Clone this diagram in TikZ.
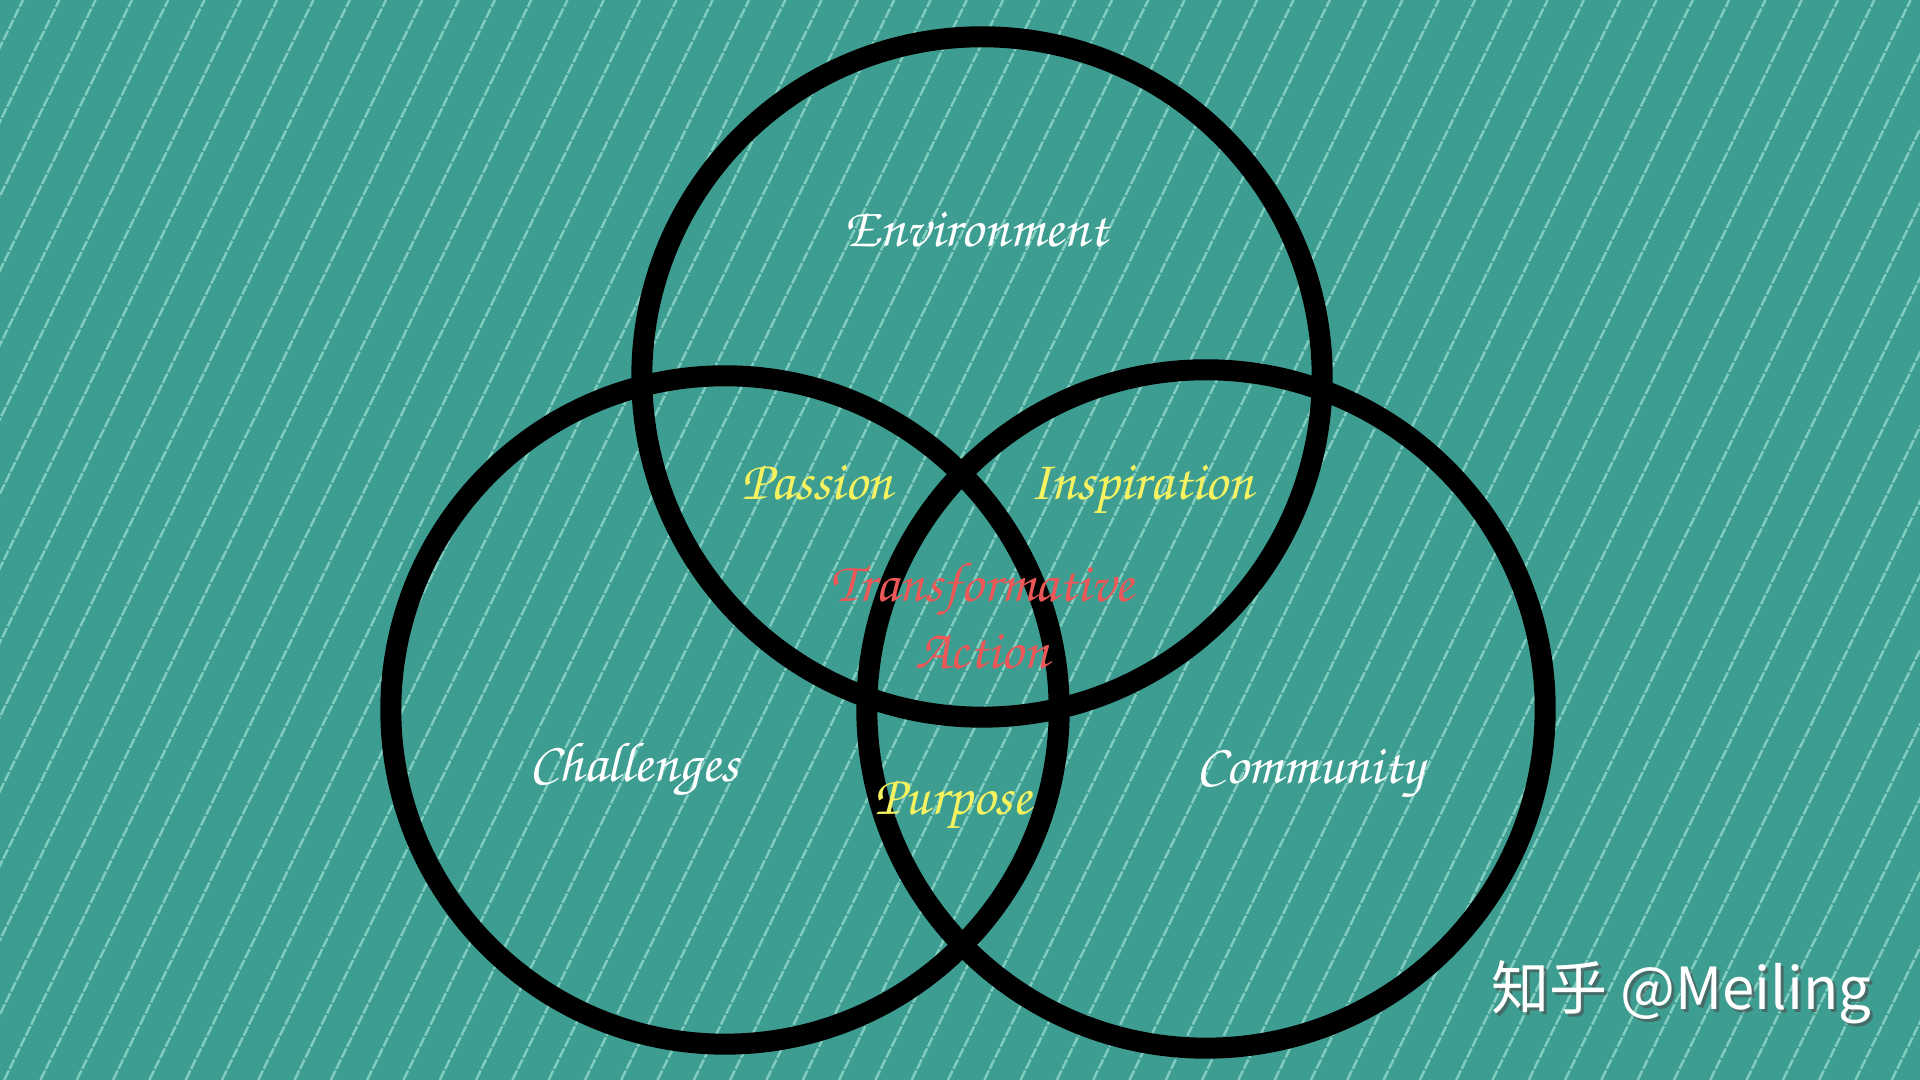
\documentclass[tikz,border=0pt]{standalone}
\usepackage[T1,TU]{fontenc}
\usepackage{fontspec}
\usepackage{tikz}
\usetikzlibrary{positioning}
\newfontfamily\cjk{Noto Sans CJK SC}
\newcommand{\vennscript}{\fontencoding{T1}\fontfamily{pzc}\fontseries{mb}\fontshape{it}\selectfont}
\definecolor{teal bg}{RGB}{61,157,145}
\definecolor{stripe}{RGB}{128,204,190}
\definecolor{hint yellow}{RGB}{246,242,96}
\definecolor{hint red}{RGB}{236,88,88}
\tikzset{
x=0.01cm, y=0.01cm, % one unit is one pixel of the picture
ring/.style={circle, draw=black, line width=21*0.2845pt, inner sep=0pt}, % the three big rings
word/.style={font=\vennscript\fontsize{16pt}{19pt}\selectfont, inner sep=0pt, anchor=base}, % the script labels
}

\begin{document}
\begin{tikzpicture}
    \useasboundingbox (0,0) rectangle (1920,1080);
    \fill[teal bg] (0,0) rectangle (1920,1080);
    \begin{scope}
        \clip (0,0) rectangle (1920,1080);
        \foreach \k in {0,...,67}
            \draw[stripe, line width=0.7pt, dash pattern=on 3pt off 0.5pt]
                ({23+36.3*\k-527},0) -- ({23+36.3*\k},1080);
    \end{scope}
    \node[ring, minimum size=6.8cm] (env) at (982,703) {};
    \node[ring, minimum size=6.68cm] (chal) at (725,370) {};
    \node[ring, minimum size=6.78cm] (comm) at (1206,371) {};
    \node[word, white] (envtext) at (976,833) {Environment};
    \node[word, white] (chaltext) at (634,298) {Challenges};
    \node[word, white] (commtext) at (1310,296) {Community};
    \node[word, hint yellow] (passion) at (817,580) {Passion};
    \node[word, hint yellow] (inspiration) at (1141,580) {Inspiration};
    \node[word, hint yellow] (purpose) at (953,265) {Purpose};
    \node[word, hint red] (transform) at (982,478) {Transformative};
    \node[word, hint red, below=0.66cm of transform.base, anchor=base] (action) {Action};
    \node[font=\cjk\fontsize{16.5pt}{18pt}\selectfont, text=black!70, opacity=0.6, anchor=base west, inner sep=0pt] (wmshadow) at (1494,67) {知乎 @Meiling};
    \node[font=\cjk\fontsize{16.5pt}{18pt}\selectfont, text=white, anchor=base west, inner sep=0pt] (wm) at (1491,70) {知乎 @Meiling};
\end{tikzpicture}
\end{document}
